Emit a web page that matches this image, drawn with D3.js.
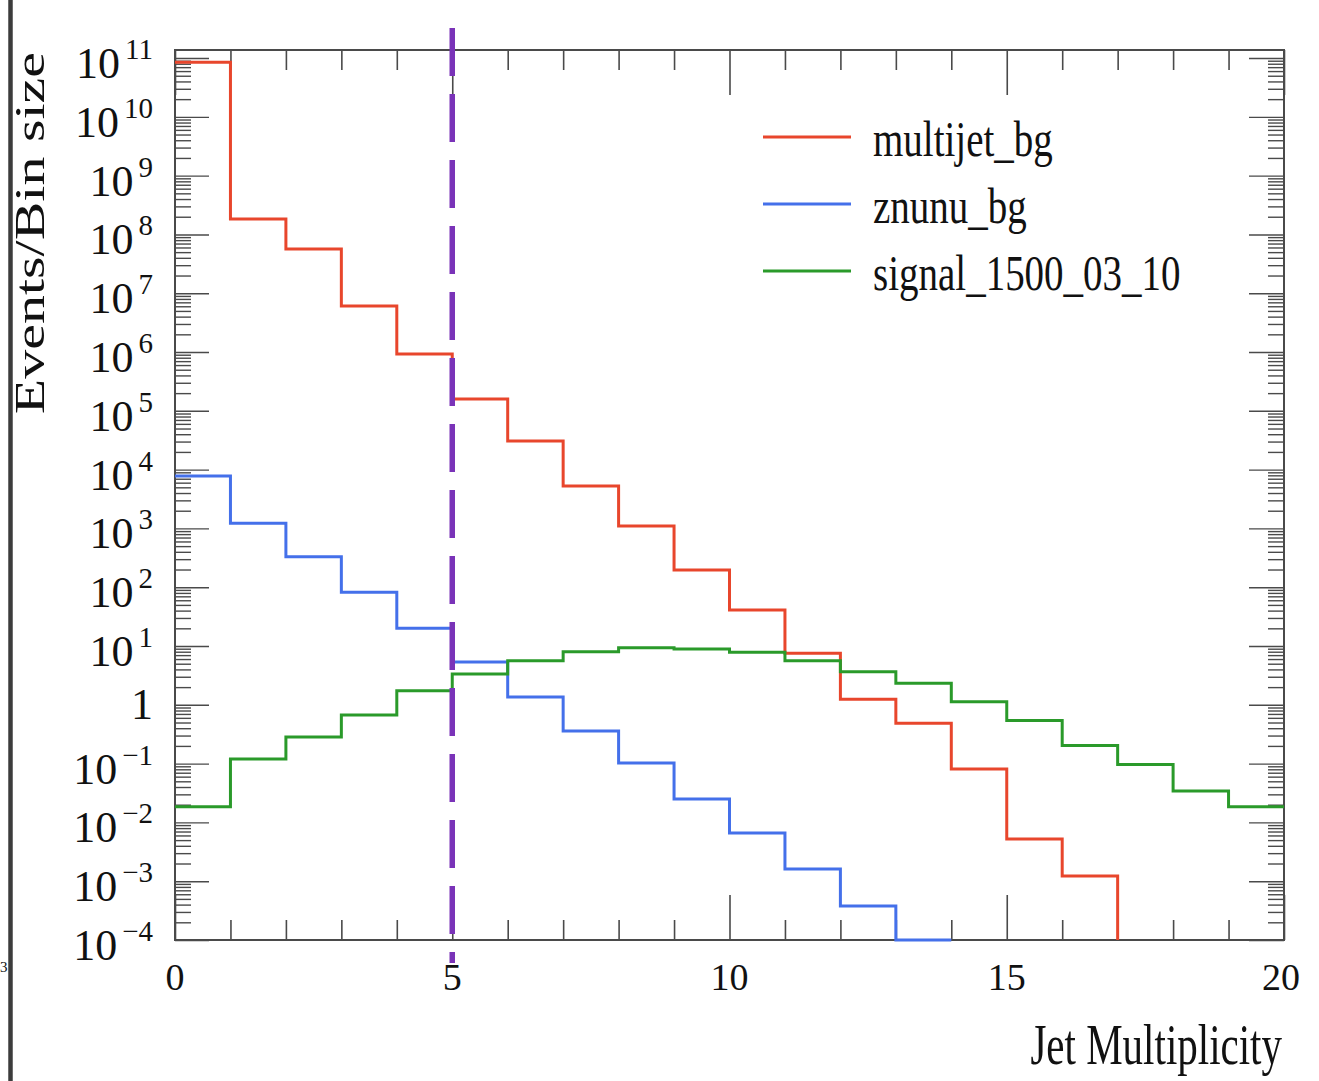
<!DOCTYPE html>
<html>
<head>
<meta charset="utf-8">
<script src="https://cdn.jsdelivr.net/npm/d3@7"></script>
<style>
  html, body { margin: 0; padding: 0; background: #fff; }
  svg { display: block; }
  text { font-family: "Liberation Serif", "Times New Roman", serif; fill: #111; }
</style>
</head>
<body>
<svg id="chart" width="1319" height="1081"></svg>
<script>
// ---- data ----
const binEdges = [0,1,2,3,4,5,6,7,8,9,10,11,12,13,14,15,16,17,18,19,20];
const multijetBg = [8.45e10, 1.83e8, 5.65e7, 6.05e6, 9.25e5, 1.59e5, 3.06e4, 5.26e3, 1.10e3, 196, 41, 7.5, 1.24, 0.484, 0.081, 0.0052, 0.00122, 0, 0, 0];
const znunuBg    = [7780, 1220, 330, 81.8, 20, 5.35, 1.36, 0.358, 0.102, 0.025, 0.0066, 0.00161, 0.00038, 0.00005, 0, 0, 0, 0, 0, 0];
const signal     = [0.0185, 0.120, 0.283, 0.67, 1.74, 3.34, 5.6, 8.0, 9.35, 8.9, 7.8, 5.6, 3.65, 2.32, 1.13, 0.54, 0.203, 0.0966, 0.0342, 0.0185];
const seriesNames = ["multijet_bg", "znunu_bg", "signal_1500_03_10"];
const seriesColors = ["#e8462c", "#4470ea", "#2a9a2a"];
const xTickValues = [0,1,2,3,4,5,6,7,8,9,10,11,12,13,14,15,16,17,18,19,20];
const xTickLabels = [0,5,10,15,20];
const yTickExponents = [-4,-3,-2,-1,0,1,2,3,4,5,6,7,8,9,10,11];
const cutValue = 5;
const xTitle = "Jet Multiplicity";
const yTitle = "Events/Bin size";

// ---- layout ----
const L = 175, R = 1284, T = 50, B = 940;
const svg = d3.select("#chart");
const x = d3.scaleLinear().domain([0, 20]).range([L, R]);
const yMin = 1e-4, yMax = 1.37e11;
const y = d3.scaleLog().domain([yMin, yMax]).range([B, T]);
const axisColor = "#4a4a4a";

// left dark border of the screenshot
svg.append("line").attr("x1", 10.5).attr("x2", 10.5).attr("y1", 0).attr("y2", 1081)
  .attr("stroke", "#3c3c3c").attr("stroke-width", 4.5);
svg.append("text").attr("x", 0).attr("y", 972).attr("font-size", 15).attr("fill", "#888").text("3");

// ---- axes (ROOT-like ticks, mirrored) ----
const gx = svg.append("g");
const bottomAxis = d3.axisBottom(x).tickValues(xTickValues).tickFormat("")
  .tickSizeOuter(0).tickSizeInner(-20);
const gb = gx.append("g").attr("transform", `translate(0,${B})`).call(bottomAxis);
gb.selectAll(".tick line").attr("y2", d => (d % 5 === 0 ? -45 : -20));
const topAxis = d3.axisTop(x).tickValues(xTickValues).tickFormat("")
  .tickSizeOuter(0).tickSizeInner(-20);
const gt = gx.append("g").attr("transform", `translate(0,${T})`).call(topAxis);
gt.selectAll(".tick line").attr("y2", d => (d % 5 === 0 ? 45 : 20));
[gb, gt].forEach(g => {
  g.select(".domain").remove();
  g.selectAll(".tick line").attr("stroke", axisColor).attr("stroke-width", 1.6);
});

// y ticks: majors + minors
const yMajor = yTickExponents.map(e => Math.pow(10, e));
const yMinor = [];
yTickExponents.forEach(e => { for (let k = 2; k <= 9; k++) { const v = k * Math.pow(10, e); if (v <= yMax) yMinor.push(v); } });
const leftMajor = d3.axisLeft(y).tickValues(yMajor).tickFormat("").tickSizeOuter(0).tickSize(-34);
const leftMinor = d3.axisLeft(y).tickValues(yMinor).tickFormat("").tickSizeOuter(0).tickSize(-16);
const rightMajor = d3.axisRight(y).tickValues(yMajor).tickFormat("").tickSizeOuter(0).tickSize(-35);
const rightMinor = d3.axisRight(y).tickValues(yMinor).tickFormat("").tickSizeOuter(0).tickSize(-16);
const gl1 = svg.append("g").attr("transform", `translate(${L},0)`).call(leftMajor);
const gl2 = svg.append("g").attr("transform", `translate(${L},0)`).call(leftMinor);
const gr1 = svg.append("g").attr("transform", `translate(${R},0)`).call(rightMajor);
const gr2 = svg.append("g").attr("transform", `translate(${R},0)`).call(rightMinor);
[gl1, gl2, gr1, gr2].forEach(g => {
  g.select(".domain").remove();
  g.selectAll(".tick line").attr("stroke", axisColor).attr("stroke-width", 1.4);
});

// frame
svg.append("rect").attr("x", L).attr("y", T).attr("width", R - L).attr("height", B - T)
  .attr("fill", "none").attr("stroke", axisColor).attr("stroke-width", 2);

// y tick labels
const yl = svg.append("g");
yTickExponents.forEach(e => {
  const ty = y(Math.pow(10, e));
  if (e === 0) {
    yl.append("text").attr("x", 153).attr("y", ty + 14).attr("text-anchor", "end")
      .attr("font-size", 44).text("1");
  } else {
    const t = yl.append("text").attr("x", 153).attr("y", ty + 20).attr("text-anchor", "end")
      .attr("font-size", 44);
    t.append("tspan").text("10");
    t.append("tspan").attr("dx", 5).attr("dy", -19).attr("font-size", 29)
      .text(e < 0 ? "\u2212" + Math.abs(e) : String(e));
  }
});

// x tick labels
svg.append("g").selectAll("text").data(xTickLabels).join("text")
  .attr("x", d => x(d) - (d === 20 ? 3 : 0)).attr("y", 990).attr("text-anchor", "middle")
  .attr("font-size", 38).text(d => d);

// axis titles
svg.append("text").attr("transform", "translate(1282,1064) scale(1,1.38)")
  .attr("text-anchor", "end").attr("font-size", 41).text(xTitle);
svg.append("text").attr("transform", "translate(44,52) scale(1,1.38) rotate(-90)")
  .attr("text-anchor", "end").attr("font-size", 42).text(yTitle);

// ---- histograms ----
function histPath(values) {
  const p = d3.path();
  let started = false, ended = false;
  values.forEach((v, i) => {
    if (ended) return;
    const x0 = x(binEdges[i]), x1 = x(binEdges[i + 1]);
    if (v > 0) {
      const yy = y(Math.max(v, yMin));
      if (!started) { p.moveTo(x0, yy); started = true; } else { p.lineTo(x0, yy); }
      p.lineTo(x1, yy);
    } else if (started) {
      p.lineTo(x0, B); ended = true;
    }
  });
  return p.toString();
}
const allSeries = [multijetBg, znunuBg, signal];
svg.append("g").selectAll("path").data(allSeries).join("path")
  .attr("d", d => histPath(d)).attr("fill", "none")
  .attr("stroke", (d, i) => seriesColors[i]).attr("stroke-width", 3);

// cut line
svg.append("line").attr("x1", x(cutValue)).attr("x2", x(cutValue)).attr("y1", 28).attr("y2", 963)
  .attr("stroke", "#7a33b8").attr("stroke-width", 5.5).attr("stroke-dasharray", "48,18");

// ---- legend ----
const legY = [137, 204, 271];
const lg = svg.append("g");
seriesNames.forEach((name, i) => {
  lg.append("line").attr("x1", 763).attr("x2", 851).attr("y1", legY[i]).attr("y2", legY[i])
    .attr("stroke", seriesColors[i]).attr("stroke-width", 3);
  lg.append("text").attr("transform", `translate(873,${legY[i] + 19}) scale(1,1.3)`)
    .attr("font-size", 39).text(name);
});
</script>
</body>
</html>
